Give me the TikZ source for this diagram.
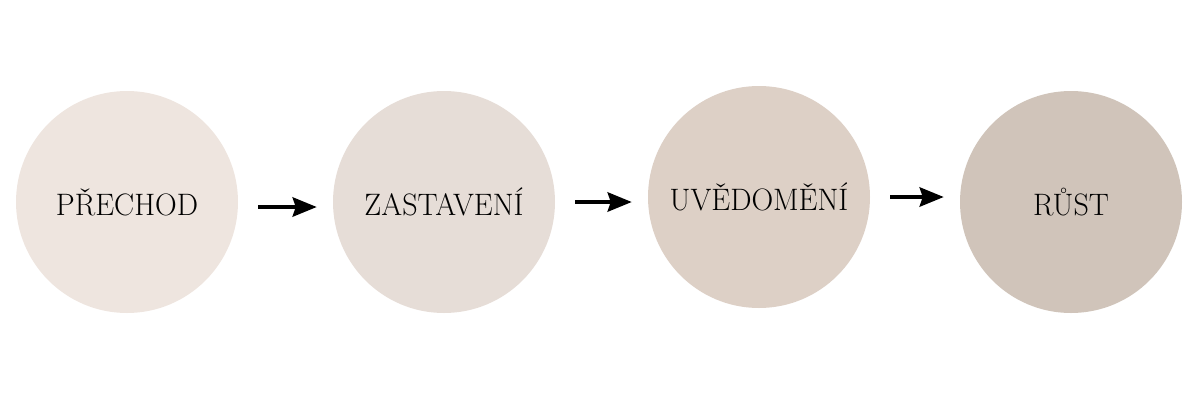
\documentclass[tikz,border=0pt]{standalone}
\usepackage{fontspec}
\usepackage{tikz}
\usepackage{graphicx}
\usetikzlibrary{arrows.meta}

\definecolor{stageA}{HTML}{EEE5DF}
\definecolor{stageB}{HTML}{E6DDD7}
\definecolor{stageC}{HTML}{DDD0C6}
\definecolor{stageD}{HTML}{D0C4BA}
\newcommand{\lbl}[1]{\scalebox{0.97}[1]{#1}}

\begin{document}
\begin{tikzpicture}[x=1pt, y=-1pt, font=\fontsize{31}{31}\selectfont]
      \tikzstyle{every node}=[circle, minimum size=222pt, inner sep=0pt, text=black]
      \tikzstyle{flow}=[-{Stealth[length=24pt, width=19pt, inset=3pt]}, line width=4.5pt, shorten <=20pt, shorten >=16pt]
      \useasboundingbox (0,0) rectangle (1200,400);
      \node[fill=stageA] (prechod) at (127,202) {\lbl{PŘECHOD}};
      \node[fill=stageB] (zastaveni) at (444,202) {\lbl{ZASTAVENÍ}};
      \node[fill=stageC] (uvedomeni) at (759,197) {\lbl{UVĚDOMĚNÍ}};
      \node[fill=stageD] (rust) at (1071,202) {\lbl{RŮST}};
      \draw[flow] ([yshift=-5pt]prechod.east) -- ([yshift=-5pt]zastaveni.west |- prechod.east);
      \draw[flow] (zastaveni.east) -- (uvedomeni.west |- zastaveni.east);
      \draw[flow] (uvedomeni.east) -- (rust.west |- uvedomeni.east);
    \end{tikzpicture}
\end{document}
